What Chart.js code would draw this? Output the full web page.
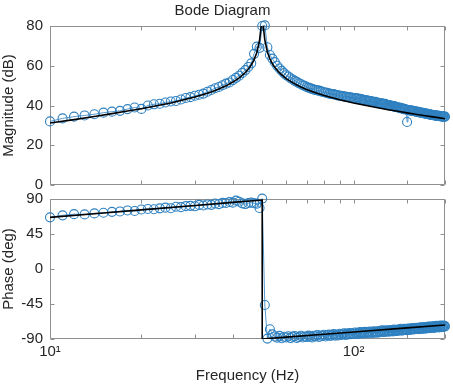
<!DOCTYPE html>
<html><head><meta charset="utf-8">
<script src="https://cdn.jsdelivr.net/npm/chart.js@4.4.1/dist/chart.umd.min.js"></script>
<style>
html,body{margin:0;padding:0;background:#fff;}
#wrap{position:relative;width:453px;height:386px;overflow:hidden;background:#fff;}
canvas{position:absolute;left:0;}
#c1{top:0;}
#c2{top:183px;}
</style></head><body>
<div id="wrap"><canvas id="c1" width="453" height="201"></canvas><canvas id="c2" width="453" height="203"></canvas></div>
<script>
// ---- data ----
const freq = [
 10,11,12,13,14,15,16,17,18,19,
 20,21,22,23,24,25,26,27,28,29,
 30,31,32,33,34,35,36,37,38,39,
 40,41,42,43,44,45,46,47,48,49,
 50,51,52,53,54,55,56,57,58,59,
 60,61,62,63,64,65,66,67,68,69,
 70,71,72,73,74,75,76,77,78,79,
 80,81,82,83,84,85,86,87,88,89,
 90,91,92,93,94,95,96,97,98,99,
 100,101,102,103,104,105,106,107,108,109,
 110,111,112,113,114,115,116,117,118,119,
 120,121,122,123,124,125,126,127,128,129,
 130,131,132,133,134,135,136,137,138,139,
 140,141,142,143,144,145,146,147,148,149,
 150,151,152,153,154,155,156,157,158,159,
 160,161,162,163,164,165,166,167,168,169,
 170,171,172,173,174,175,176,177,178,179,
 180,181,182,183,184,185,186,187,188,189,
 190,191,192,193,194,195,196,197,198,199,
 200];
const magMeasured = [
 32.0,33.5,34.4,35.0,35.6,36.4,36.9,37.3,38.2,39.0,
 38.3,40.0,40.6,40.9,41.5,42.0,42.3,43.0,43.8,44.2,
 44.9,45.4,46.0,46.9,47.8,48.7,49.3,50.2,51.0,51.6,
 52.8,53.9,55.0,56.4,57.8,59.4,61.2,66.0,69.6,69.0,
 80.0,80.3,69.3,65.4,63.6,61.8,60.0,58.6,57.4,56.3,
 55.2,54.6,53.7,53.1,52.4,51.9,51.2,50.8,50.2,49.9,
 49.3,49.0,48.6,48.4,48.0,47.8,47.6,47.5,47.1,46.9,
 46.7,46.4,46.4,46.0,45.9,45.7,45.7,45.4,45.3,45.0,
 45.0,44.8,44.8,44.5,44.5,44.3,44.3,44.0,44.1,43.8,
 43.8,43.6,43.7,43.4,43.5,43.1,43.2,42.9,42.9,42.6,
 42.5,42.6,42.3,42.2,42.3,41.9,41.9,41.7,41.8,41.4,
 41.3,41.4,41.1,41.0,41.1,40.8,40.7,40.8,40.4,40.4,
 40.2,40.2,39.9,40.0,39.7,39.6,39.7,39.3,39.3,39.1,
 39.0,39.0,38.7,38.8,38.5,38.5,38.2,38.3,38.0,38.0,
 31.7,37.7,37.7,37.5,37.6,37.3,37.4,37.2,37.1,37.1,
 37.0,36.8,36.9,36.6,36.7,36.5,36.4,36.5,36.2,36.3,
 36.1,36.0,36.1,35.8,35.9,35.7,35.6,35.7,35.4,35.5,
 35.3,35.3,35.2,35.2,35.0,35.1,34.9,35.0,34.8,34.9,
 34.7,34.8,34.6,34.7,34.5,34.6,34.4,34.5,34.3,34.4,
 34.4];
const phaseMeasured = [
 66.4,69.0,70.5,70.2,71.5,72.3,73.5,74.0,75.3,74.6,
 76.5,77.2,76.8,78.0,78.9,78.2,80.1,79.5,80.8,81.2,
 80.6,82.4,81.7,83.0,82.5,84.2,83.4,85.0,84.8,86.2,
 85.3,87.9,86.5,84.4,83.5,84.8,85.3,84.6,84.0,78.5,
 90.5,-46.3,-89.5,-77.5,-84.0,-86.8,-88.2,-86.0,-89.0,-87.2,
 -88.0,-86.5,-88.8,-87.0,-86.2,-88.5,-87.4,-85.9,-88.0,-86.8,
 -87.5,-85.6,-86.9,-88.1,-85.8,-86.6,-84.9,-87.3,-85.5,-86.2,
 -84.6,-86.8,-85.0,-84.2,-86.1,-84.8,-83.6,-85.7,-84.3,-85.5,
 -83.2,-84.9,-83.8,-82.6,-84.7,-83.1,-84.0,-82.2,-83.9,-82.8,
 -83.5,-81.6,-83.4,-82.0,-83.1,-81.2,-82.7,-81.5,-83.0,-80.8,
 -82.2,-81.0,-82.6,-80.4,-81.9,-80.9,-82.3,-80.0,-81.5,-80.6,
 -81.8,-79.7,-81.2,-80.1,-78.9,-80.8,-79.4,-81.0,-78.8,-80.3,
 -79.2,-80.6,-78.5,-79.9,-78.9,-80.2,-77.9,-79.6,-78.4,-79.8,
 -77.7,-79.1,-78.0,-76.9,-79.3,-77.6,-78.7,-76.8,-78.2,-77.3,
 -78.6,-76.5,-77.9,-76.8,-78.3,-76.2,-77.5,-75.9,-77.8,-76.4,
 -77.2,-75.6,-77.0,-75.8,-77.4,-75.3,-76.7,-74.9,-76.6,-75.5,
 -76.9,-74.6,-76.2,-75.0,-76.5,-74.4,-75.8,-73.9,-76.1,-74.8,
 -75.6,-73.7,-75.4,-74.2,-75.9,-73.5,-75.1,-74.0,-72.9,-74.8,
 -73.6,-75.2,-73.1,-74.5,-72.7,-74.9,-73.3,-74.6,-72.8,-74.1,
 -73.5];
const magModelFreq = [10,12,14,16,18,20,22,25,28,30,33,35,38,40,42,44,45,46,47,48,49,49.5,49.8,50,50.2,50.5,51,52,53,54,55,57,60,63,66,70,75,80,90,100,110,120,130,140,150,160,170,180,190,200];
const magModel = [31.2,32.9,34.5,35.9,37.2,38.4,39.6,41.3,43.1,44.3,46.2,47.6,49.9,51.8,53.9,56.6,58.3,60.4,63.0,66.6,72.7,78.8,82,84,82,78.8,72.9,66.9,63.5,61.1,59.2,56.4,53.5,51.5,49.8,48.1,46.4,45.0,42.9,41.3,40.0,38.9,37.9,37.1,36.3,35.6,35.0,34.4,33.9,33.3];
const phaseModelFreq = [10,15,20,30,40,50,50,60,80,100,150,200];
const phaseModel = [66.4,72.0,76.0,81.6,85.6,88.7,-90,-87.6,-83.9,-81.0,-75.7,-72.0];
const magTicks = [0,20,40,60,80];
const phaseTicks = [-90,-45,0,45,90];
const decadeLabels = {10:'10\u00B9', 100:'10\u00B2'};

// ---- styling ----
const FONT = "'Liberation Sans', Arial, Helvetica, sans-serif";
const TXT = '#262626';
const BOX = '#8f8f8f';
const BLUE = '#2f80c0';

const pts = (xs, ys) => xs.map((x, i) => ({x, y: ys[i]}));

const boxTicks = {
  id: 'boxTicks',
  beforeDatasetsDraw(chart) {
    const {ctx, chartArea: a, scales} = chart;
    const L = Math.round(a.left) + 0.5, R = Math.round(a.right) - 0.5;
    const T = Math.round(a.top) + 0.5, B = Math.round(a.bottom) - 0.5;
    ctx.save();
    ctx.strokeStyle = BOX; ctx.lineWidth = 1;
    ctx.beginPath();
    ctx.rect(L, T, R - L, B - T);
    scales.x.ticks.forEach(t => {
      const px = Math.round(scales.x.getPixelForValue(t.value)) + 0.5;
      ctx.moveTo(px, B); ctx.lineTo(px, B - 4);
      ctx.moveTo(px, T); ctx.lineTo(px, T + 4);
    });
    scales.y.ticks.forEach(t => {
      const py = Math.round(scales.y.getPixelForValue(t.value)) + 0.5;
      ctx.moveTo(L, py); ctx.lineTo(L + 4, py);
      ctx.moveTo(R, py); ctx.lineTo(R - 4, py);
    });
    ctx.stroke();
    ctx.restore();
  }
};

function measuredSet(ys) {
  return {
    data: pts(freq, ys), showLine: true, order: 1, clip: false,
    borderColor: BLUE, borderWidth: 0.8,
    pointStyle: 'circle', pointRadius: 4.5, pointBorderWidth: 1.1,
    pointBorderColor: BLUE, pointBackgroundColor: 'rgba(0,0,0,0)', backgroundColor: 'rgba(0,0,0,0)'
  };
}
function modelSet(xs, ys) {
  return {
    data: pts(xs, ys), showLine: true, order: 0,
    borderColor: '#000', borderWidth: 1.6, pointRadius: 0, backgroundColor: '#000'
  };
}
function xScale(showLabels) {
  return {
    type: 'logarithmic', min: 10, max: 200,
    grid: {display: false, drawTicks: false}, border: {display: false},
    ticks: {
      display: showLabels, autoSkip: false, maxRotation: 0, padding: 4,
      color: TXT, font: {family: FONT, size: 15},
      callback: v => decadeLabels[v] || ''
    },
    title: showLabels ? {display: true, text: 'Frequency (Hz)', color: TXT, font: {family: FONT, size: 15}, padding: {top: 0, bottom: 1}} : {display: false},
    afterFit: s => { s.height = showLabels ? 47 : 0; }
  };
}
function yScale(min, max, step, ticksArr, label) {
  return {
    min, max,
    grid: {display: false, drawTicks: false}, border: {display: false},
    afterBuildTicks: s => { s.ticks = ticksArr.map(v => ({value: v})); },
    ticks: {stepSize: step, padding: 7, color: TXT, font: {family: FONT, size: 15}},
    title: {display: true, text: label, color: TXT, font: {family: FONT, size: 15}, padding: {top: 0, bottom: 0}},
    afterFit: s => { s.width = 50; }
  };
}
const common = {
  type: 'scatter',
  plugins: [boxTicks]
};

new Chart(document.getElementById('c1'), {
  ...common,
  data: {datasets: [modelSet(magModelFreq, magModel), measuredSet(magMeasured)]},
  options: {
    responsive: false, animation: false, devicePixelRatio: 1,
    layout: {padding: {left: 0, right: 8, top: 0, bottom: 0}},
    plugins: {
      legend: {display: false}, tooltip: {enabled: false},
      title: {display: true, text: 'Bode Diagram', color: TXT, font: {family: FONT, size: 15, weight: 'normal'}, padding: {top: 2, bottom: 6}}
    },
    scales: {x: xScale(false), y: yScale(0, 80, 20, magTicks, 'Magnitude (dB)')}
  }
});

new Chart(document.getElementById('c2'), {
  ...common,
  data: {datasets: [modelSet(phaseModelFreq, phaseModel), measuredSet(phaseMeasured)]},
  options: {
    responsive: false, animation: false, devicePixelRatio: 1,
    layout: {padding: {left: 0, right: 8, top: 0, bottom: 0}},
    plugins: {legend: {display: false}, tooltip: {enabled: false}},
    scales: {x: xScale(true), y: yScale(-90, 90, 45, phaseTicks, 'Phase (deg)')}
  }
});
</script>
</body></html>
